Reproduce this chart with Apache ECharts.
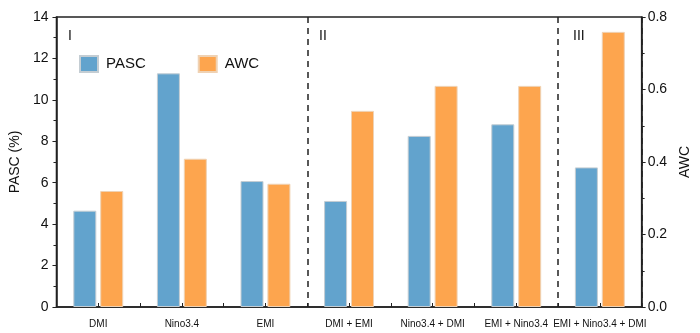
<!DOCTYPE html>
<html>
<head>
<meta charset="utf-8">
<script src="https://cdn.jsdelivr.net/npm/echarts@6/dist/echarts.min.js"></script>
<style>
  html, body { margin: 0; padding: 0; background: #fff; }
  #chart { width: 700px; height: 333px; }
</style>
</head>
<body>
<div id="chart"></div>
<script>
// categories and values
var categories = ['DMI', 'Nino3.4', 'EMI', 'DMI + EMI', 'Nino3.4 + DMI', 'EMI + Nino3.4', 'EMI + Nino3.4 + DMI']
var pascValues = [4.65, 11.28, 6.08, 5.12, 8.26, 8.82, 6.74]
var awcValues = [0.32, 0.409, 0.34, 0.541, 0.61, 0.61, 0.759]
var groupLabels = ['I', 'II', 'III']

var font = 'Liberation Sans, Arial, sans-serif'
var chart = echarts.init(document.getElementById('chart'))

var option = {
  animation: false,
  textStyle: { fontFamily: font },
  grid: {
    left: 55, right: 55, top: 17, bottom: 26,
    show: true, borderColor: '#222', borderWidth: 1.5, backgroundColor: 'transparent'
  },
  legend: {
    left: 74, top: 50,
    icon: 'rect',
    itemWidth: 18, itemHeight: 16, itemGap: 52,
    textStyle: { fontSize: 15, color: '#111', fontFamily: font, padding: [0, 0, 0, 3] },
    data: ['PASC', 'AWC']
  },
  graphic: [
    { type: 'text', left: 68, top: 29, style: { text: groupLabels[0], fontSize: 14, fill: '#111', fontFamily: font } },
    { type: 'text', left: 319, top: 29, style: { text: groupLabels[1], fontSize: 14, fill: '#111', fontFamily: font } },
    { type: 'text', left: 573, top: 29, style: { text: groupLabels[2], fontSize: 14, fill: '#111', fontFamily: font } }
  ],
  xAxis: [
    {
      type: 'category',
      data: categories,
      axisLine: { lineStyle: { color: '#222', width: 1.5 } },
      axisTick: { show: true, inside: true, length: 4, lineStyle: { color: '#222' } },
      axisLabel: { fontSize: 10, color: '#111', margin: 12, interval: 0 },
      splitLine: {
        show: true,
        interval: function (i) { return i === 3 || i === 6 },
        lineStyle: { color: '#222', type: [6, 5], width: 1.5 }
      }
    },
    {
      type: 'category',
      data: categories,
      position: 'bottom',
      axisLine: { show: false },
      axisTick: { show: true, inside: true, length: 4, alignWithLabel: true, interval: 0, lineStyle: { color: '#222' } },
      axisLabel: { show: false }
    }
  ],
  yAxis: [
    {
      type: 'value',
      min: 0, max: 14, interval: 2,
      name: 'PASC (%)',
      nameLocation: 'middle',
      nameGap: 32,
      nameRotate: 90,
      nameTextStyle: { fontSize: 14, color: '#111' },
      axisLine: { show: true, lineStyle: { color: '#222', width: 1.5 } },
      axisTick: { show: true, length: 4, lineStyle: { color: '#222' } },
      minorTick: { show: true, splitNumber: 2, length: 3, lineStyle: { color: '#222' } },
      axisLabel: { fontSize: 14, color: '#111', margin: 8 },
      splitLine: { show: false }
    },
    {
      type: 'value',
      min: 0, max: 0.8, interval: 0.2,
      name: 'AWC',
      nameLocation: 'middle',
      nameGap: 36,
      nameRotate: 90,
      nameTextStyle: { fontSize: 14, color: '#111' },
      axisLine: { show: true, lineStyle: { color: '#222', width: 1.5 } },
      axisTick: { show: true, length: 4, lineStyle: { color: '#222' } },
      minorTick: { show: true, splitNumber: 2, length: 3, lineStyle: { color: '#222' } },
      axisLabel: { fontSize: 14, color: '#111', margin: 6, formatter: function (v) { return v.toFixed(1) } },
      splitLine: { show: false }
    }
  ],
  series: [
    {
      name: 'PASC',
      type: 'bar',
      data: pascValues,
      barWidth: 23,
      barGap: '17%',
      itemStyle: { color: '#62a3cd', borderColor: '#c4cdd3', borderWidth: 1 }
    },
    {
      name: 'AWC',
      type: 'bar',
      yAxisIndex: 1,
      data: awcValues,
      barWidth: 23,
      barGap: '17%',
      itemStyle: { color: '#fda54e', borderColor: '#efd2b4', borderWidth: 1 }
    }
  ]
}

chart.setOption(option)
</script>
</body>
</html>
